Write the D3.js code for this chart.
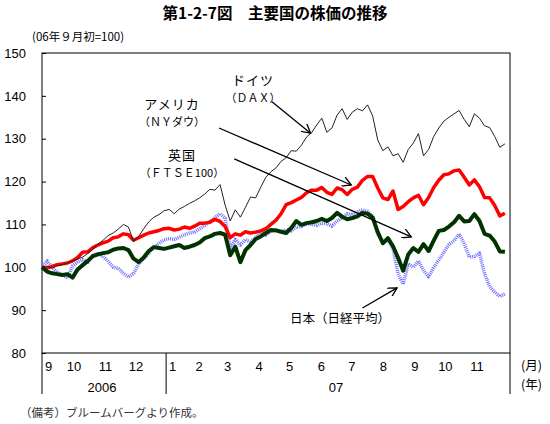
<!DOCTYPE html>
<html>
<head>
<meta charset="utf-8">
<script src="https://cdn.jsdelivr.net/npm/d3@7"></script>
<style>
  body { margin: 0; background: #fff; }
  svg { display: block; font-family: "Noto Sans CJK JP", "Liberation Sans", sans-serif; }
  .num { font-family: "Liberation Sans", Arial, sans-serif; }
</style>
</head>
<body>
<svg id="chart" width="550" height="424"></svg>
<script>
// 5-day samples from 2006-09-01 (06年9月初=100)
const dates = d3.timeDay.range(new Date(2006, 8, 1), new Date(2007, 11, 1), 5);

const dax = [
  100, 100.3, 99.8, 100.4, 100.6, 101, 101.5, 101.9, 102.4, 103.2,
  104.2, 105.4, 106.3, 107.4, 108, 108.9, 110, 109.4, 106, 107.2,
  109, 110.6, 111.7, 112.3, 113.2, 113.5, 112.5, 113.6, 114.2, 114.9,
  115.5, 116.2, 117.1, 118.2, 118, 119.3, 114.5, 110.8, 113.4, 111.7,
  114, 116.4, 116.2, 118.7, 121, 122.3, 123.2, 124.7, 125.6, 127.2,
  127.1, 128.5, 130.4, 131.4, 133.2, 134.8, 131.5, 132.5, 135.5, 137,
  134.5, 136.2, 137, 136.5, 137.9, 135.3, 129.7, 127.2, 128.1, 126,
  126.5, 124.5, 127.5, 129, 131.2, 126, 127.5, 130.5, 132.5, 134.1,
  135, 135.8, 136.6, 134.5, 132.8, 135.8, 134.8, 133, 132.6, 130.5,
  128, 128.8
];

const nyDow = [
  100, 99.8, 100.2, 100.6, 100.8, 101, 101.5, 102.3, 103.5, 103.6,
  104.6, 105.2, 105.7, 106.1, 106.9, 107.1, 107.8, 107.6, 106.3, 106.9,
  107.5, 108, 108.3, 108.6, 109, 109.1, 108.7, 108.9, 109.4, 109.1,
  109.6, 110.3, 110.3, 110.5, 111.2, 110.7, 109.5, 106.9, 107.8, 107.5,
  108.3, 108, 108.2, 108.5, 109, 110, 111, 112.5, 114.6, 115.1,
  115.7, 116.3, 117.4, 118, 118, 118.6, 117.5, 117, 118.5, 118.1,
  117, 118.2, 118.7, 120.3, 121.2, 121.2, 118.5, 116.2, 115.8, 117.8,
  113.5, 114.2, 115.3, 116.2, 116.8, 114.6, 116.3, 118.6, 120.3, 121.6,
  121.8, 122.5, 122.7, 121, 119.2, 120.4, 118.8, 116.3, 116.2, 114.4,
  112, 112.6
];

const ftse = [
  100, 99, 98.6, 98.4, 98.2, 98.4, 97.6, 99.5, 100.5, 101.5,
  102.6, 103, 103.3, 103.5, 104.1, 104.4, 104.5, 104, 102, 101.2,
  102.3, 103.8, 104.7, 104.5, 104.3, 104.6, 104.9, 105.2, 104.5, 104.8,
  105.2, 105.8, 106.8, 107.2, 107.8, 108, 107.6, 102.8, 104.8, 101.2,
  104, 105.2, 106.6, 107.2, 108, 108.7, 108.6, 108.3, 108, 109.2,
  110.8, 109.9, 110.3, 110.5, 110.8, 111.3, 110.8, 111.5, 112.7, 111.8,
  111.2, 111.5, 111.9, 112.7, 112.5, 111.6, 108.2, 105.6, 106.8, 104.9,
  102.2, 99.2, 103, 104.5, 103.6, 105.4, 103.8, 106.2, 108.5, 108.7,
  109.5, 110.5, 112, 110.7, 110.8, 112.4, 110.8, 107.8, 107.4, 106,
  103.7, 103.6
];

const nikkei = [
  100, 101.5, 100, 98.8, 98.3, 97.5, 100.3, 101.2, 101.8, 101.2,
  102.8, 103.2, 102.5, 101.4, 100, 99.8, 98.6, 97.7, 98.5, 100.8,
  102, 103.3, 104.7, 105.6, 106.4, 106.7, 106.5, 107, 107.6, 108,
  108.2, 109, 109.8, 110.7, 111.6, 112.5, 111.5, 104.5, 106.5, 105.2,
  106.5, 105.8, 107, 108.3, 107.5, 108.5, 108.7, 108.2, 108.8, 108.5,
  109.4, 109.5, 110.2, 110, 109.8, 110.3, 110.2, 109.6, 110.8, 111.5,
  112.5, 112.2, 112.9, 113.4, 113, 112, 107.8, 106, 106.3, 104.4,
  98.5, 96, 100.9, 100, 101.5, 99.3, 97.8, 100, 101.7, 103.5,
  105.3, 106.2, 107.8, 105.5, 102.4, 102.5, 103.3, 98.5, 95.5, 94.2,
  93.2, 93.8
];

const yTicks = [80, 90, 100, 110, 120, 130, 140, 150];
const yearLabels = [
  { text: "2006", from: new Date(2006, 8, 1), to: new Date(2007, 0, 1) },
  { text: "07", from: new Date(2007, 0, 1), to: new Date(2007, 11, 5) }
];

// annotation arrows: tail -> head, in (date, index value)
const notes = [
  { lines: ["ドイツ", "（ＤＡＸ）"], tx: 253, ty: 85, from: ["2007-04-15", 138.6], to: ["2007-05-23", 131.3] },
  { lines: ["アメリカ", "（ＮＹダウ）"], tx: 172, ty: 109, from: ["2007-02-22", 132.5], to: ["2007-07-02", 119.2] },
  { lines: ["英国", "（ＦＴＳＥ100）"], tx: 182, ty: 160, from: ["2007-03-09", 125.3], to: ["2007-08-30", 107.1] },
  { lines: ["日本（日経平均）"], tx: 340, ty: 323, from: ["2007-07-13", 90.5], to: ["2007-08-16", 95.2] }
];

const svg = d3.select("#chart");
const plot = { left: 42, right: 510, top: 53, bottom: 353 };

const x = d3.scaleTime()
  .domain([new Date(2006, 8, 1), new Date(2007, 11, 5)])
  .range([plot.left, plot.right]);
const y = d3.scaleLinear().domain([80, 150]).range([plot.bottom, plot.top]);
const parse = d3.timeParse("%Y-%m-%d");

// title
svg.append("text")
  .attr("x", 275).attr("y", 19)
  .attr("text-anchor", "middle")
  .style("font-size", "15.5px")
  .style("font-weight", "bold")
  .text("第1-2-7図　主要国の株価の推移");

svg.append("text")
  .attr("x", 32).attr("y", 41)
  .style("font-size", "11.5px")
  .text("(06年９月初=100)");

// y axis
const yAxis = svg.append("g")
  .attr("class", "num")
  .attr("transform", `translate(${plot.left},0)`)
  .call(d3.axisLeft(y).tickValues(yTicks).tickSize(-4).tickPadding(16));
yAxis.select(".domain").remove();
yAxis.selectAll("line").attr("stroke", "#000");
yAxis.selectAll("text")
  .style("font-size", "13px")
  .style("font-family", "Liberation Sans, Arial, sans-serif")
  .attr("fill", "#000");

// frame
svg.append("rect")
  .attr("x", plot.left).attr("y", plot.top)
  .attr("width", plot.right - plot.left).attr("height", plot.bottom - plot.top)
  .attr("fill", "none").attr("stroke", "#000").attr("stroke-width", 1);

// x category area below the frame
const boundaries = [x.domain()[0], new Date(2007, 0, 1), x.domain()[1]];
svg.selectAll(".sep")
  .data(boundaries)
  .join("line")
  .attr("x1", d => x(d)).attr("x2", d => x(d))
  .attr("y1", plot.bottom).attr("y2", 394)
  .attr("stroke", "#000");

const months = d3.timeMonth.range(new Date(2006, 8, 1), new Date(2007, 10, 2));
svg.selectAll(".month")
  .data(months)
  .join("text")
  .attr("class", "num")
  .attr("x", (d, i) => x(d) + (i === 0 || d.getMonth() === 0 ? 6.5 : 1.5))
  .attr("y", 371)
  .attr("text-anchor", "middle")
  .style("font-size", "13px")
  .text(d => d.getMonth() + 1);

svg.selectAll(".year")
  .data(yearLabels)
  .join("text")
  .attr("class", "num")
  .attr("x", d => (x(d.from) + x(d.to)) / 2 - 2)
  .attr("y", 392)
  .attr("text-anchor", "middle")
  .style("font-size", "13px")
  .text(d => d.text);

svg.append("text").attr("x", 521).attr("y", 370).style("font-size", "12.5px").text("(月)");
svg.append("text").attr("x", 521).attr("y", 389).style("font-size", "12.5px").text("(年)");

svg.append("text")
  .attr("x", 20).attr("y", 417)
  .style("font-size", "11.5px")
  .attr("fill", "#333")
  .text("（備考）ブルームバーグより作成。");

// series
const series = [
  { name: "nikkei", values: nikkei, color: "#6f6fff", width: 3.5, dash: "1 1" },
  { name: "nyDow", values: nyDow, color: "#ff0000", width: 3.5 },
  { name: "ftse", values: ftse, color: "#003300", width: 4 },
  { name: "dax", values: dax, color: "#222", width: 1 }
];

const line = d3.line()
  .x((d, i) => x(dates[i]))
  .y(d => y(d));

svg.append("g")
  .selectAll("path")
  .data(series)
  .join("path")
  .attr("d", d => line(d.values))
  .attr("fill", "none")
  .attr("stroke", d => d.color)
  .attr("stroke-width", d => d.width)
  .attr("stroke-dasharray", d => d.dash || null)
  .attr("stroke-linejoin", "round");

// annotations
svg.append("defs").append("marker")
  .attr("id", "arrow")
  .attr("viewBox", "0 0 10 10")
  .attr("refX", 9).attr("refY", 5)
  .attr("markerWidth", 10).attr("markerHeight", 10)
  .attr("markerUnits", "userSpaceOnUse")
  .attr("orient", "auto")
  .append("path")
  .attr("d", "M0,0 L9,5 L0,10")
  .attr("fill", "none")
  .attr("stroke", "#000")
  .attr("stroke-width", 1.3);

const note = svg.append("g").selectAll("g").data(notes).join("g");
note.append("line")
  .attr("x1", d => x(parse(d.from[0]))).attr("y1", d => y(d.from[1]))
  .attr("x2", d => x(parse(d.to[0]))).attr("y2", d => y(d.to[1]))
  .attr("stroke", "#000").attr("stroke-width", 1.3)
  .attr("marker-end", "url(#arrow)");
note.each(function(d) {
  d3.select(this).selectAll("text")
    .data(d.lines)
    .join("text")
    .attr("x", d.tx)
    .attr("y", (t, i) => d.ty + i * 17)
    .attr("text-anchor", "middle")
    .style("font-size", (t, i) => (i === 0 && d.lines.length > 1 ? "13px" : d.lines.length > 1 ? "11px" : "12.5px"))
    .style("letter-spacing", (t, i) => (i === 0 && d.lines.length > 1 ? "1px" : "0px"))
    .text(t => t);
});
</script>
</body>
</html>
